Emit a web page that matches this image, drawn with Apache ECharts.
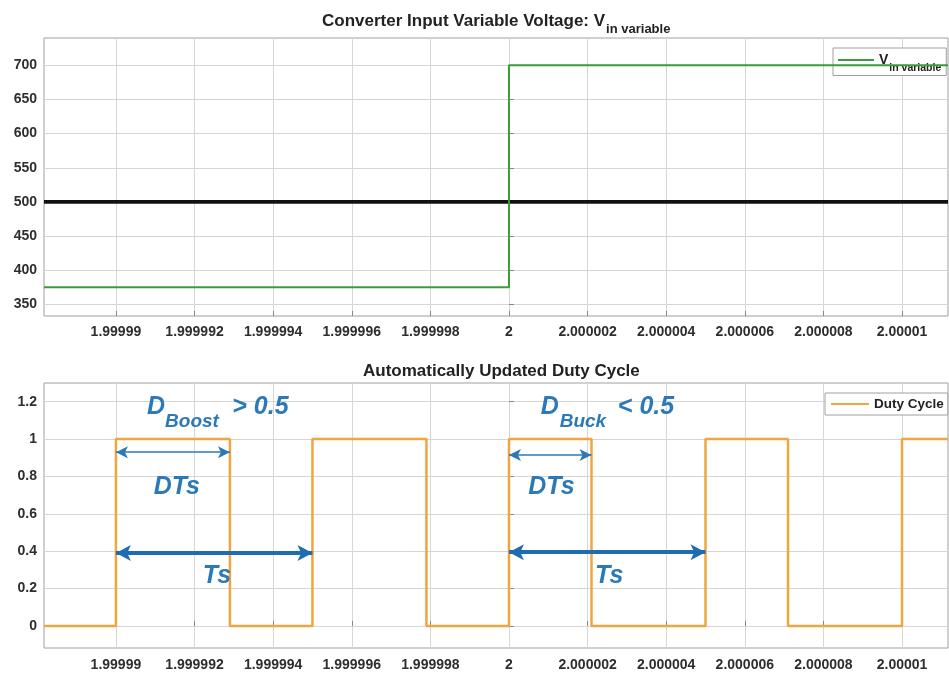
<!DOCTYPE html>
<html>
<head>
<meta charset="utf-8">
<script src="https://cdn.jsdelivr.net/npm/echarts@6/dist/echarts.min.js"></script>
<style>
html,body{margin:0;padding:0;background:#fff;}
#chart{width:949px;height:673px;}
</style>
</head>
<body>
<div id="chart"></div>
<script>
// ---- data (time in seconds) ----
const xStartTime = 1.99998817;
const xEndTime = 2.00001117;
const xTickLabels = ['1.99999','1.999992','1.999994','1.999996','1.999998','2','2.000002','2.000004','2.000006','2.000008','2.00001'];
const vTicks = [350, 400, 450, 500, 550, 600, 650, 700];
const dutyTicks = [0, 0.2, 0.4, 0.6, 0.8, 1, 1.2];

// V_in variable: step (value holds until next time)
const vinTimes = [1.99998817, 2, 2.00001117];
const vinValues = [375, 700, 700];
// reference 500 V line
const refTimes = [1.99998817, 2.00001117];
const refValues = [500, 500];
// Duty cycle switching instants and level after each instant
const dutyTimes = [1.99998817, 1.99999, 1.9999929, 1.999995, 1.9999979, 2, 2.0000021, 2.000005, 2.0000071, 2.00001, 2.00001117];
const dutyValues = [0, 1, 0, 1, 0, 1, 0, 1, 0, 1, 1];

// annotation arrows: [startTime, endTime, level]
const dtsArrows = [[1.99999, 1.9999929, 0.93], [2, 2.0000021, 0.915]];
const tsArrows = [[1.99999, 1.999995, 0.39], [2, 2.000005, 0.395]];
// annotation texts: [time, level, text, size, align]
const annTexts = [
  [1.99999079, 1.172, 'D', 25, 'left'],
  [1.99999125, 1.095, 'Boost', 19, 'left'],
  [1.99999296, 1.172, '> 0.5', 25, 'left'],
  [1.99999155, 0.744, 'DTs', 25, 'center'],
  [1.99999257, 0.268, 'Ts', 25, 'center'],
  [2.00000081, 1.172, 'D', 25, 'left'],
  [2.00000129, 1.095, 'Buck', 19, 'left'],
  [2.00000277, 1.172, '< 0.5', 25, 'left'],
  [2.00000108, 0.744, 'DTs', 25, 'center'],
  [2.00000255, 0.268, 'Ts', 25, 'center']
];

// ---- helpers ----
const toUs = t => Math.round((t - 2) * 1e8) / 100; // microseconds offset from 2 s
const xTickVals = xTickLabels.map(s => toUs(parseFloat(s)));
const xLabel = v => {
  let best = 0, bd = Infinity;
  xTickVals.forEach((tv, i) => { const d = Math.abs(tv - v); if (d < bd) { bd = d; best = i; } });
  return xTickLabels[best];
};
const pairs = (ts, vs) => ts.map((t, i) => [toUs(t), vs[i]]);

const FONT = '"Liberation Sans", Arial, sans-serif';
const BLUE = '#2b79b8';
const labelStyle = {fontFamily: FONT, fontWeight: 'bold', fontSize: 14, color: '#2e2e2e'};

function xAxisFor(gi, margin) {
  return {
    type: 'value', gridIndex: gi, min: toUs(xStartTime), max: toUs(xEndTime),
    axisLine: {show: false},
    axisTick: {show: true, inside: true, length: 5, customValues: xTickVals, lineStyle: {color: '#888'}},
    axisLabel: Object.assign({customValues: xTickVals, formatter: xLabel, margin: margin}, labelStyle),
    splitLine: {show: true, lineStyle: {color: '#d6d6d6', width: 1}}
  };
}
function yAxisFor(gi, min, max, ticks) {
  return {
    type: 'value', gridIndex: gi, min: min, max: max,
    axisLine: {show: false},
    axisTick: {show: true, inside: true, length: 5, customValues: ticks, lineStyle: {color: '#888'}},
    axisLabel: Object.assign({customValues: ticks, margin: 7, formatter: v => String(+v.toFixed(2))}, labelStyle),
    splitLine: {show: true, lineStyle: {color: '#d6d6d6', width: 1}}
  };
}

const chart = echarts.init(document.getElementById('chart'), null, {renderer: 'canvas'});
chart.setOption({
  animation: false,
  backgroundColor: '#fff',
  title: [
    {
      text: '{b|Converter Input Variable Voltage: V}{s|in variable}',
      left: 322, top: 7, padding: 0,
      textStyle: {rich: {
        b: {fontFamily: FONT, fontSize: 17, fontWeight: 'bold', color: '#222'},
        s: {fontFamily: FONT, fontSize: 13, fontWeight: 'bold', color: '#222', padding: [16, 0, 0, 1]}
      }}
    },
    {
      text: 'Automatically Updated Duty Cycle',
      left: 363, top: 363, padding: 0,
      textStyle: {fontFamily: FONT, fontSize: 17, fontWeight: 'bold', color: '#222'}
    }
  ],
  legend: [
    {
      data: ['Vin'], left: 833, top: 48, padding: [5, 5, 2, 4],
      itemWidth: 36, itemHeight: 14,
      itemStyle: {opacity: 0},
      backgroundColor: '#fff', borderColor: '#a0a0a0', borderWidth: 1, borderRadius: 0,
      formatter: () => '{v|V}{s|in variable}',
      textStyle: {rich: {
        v: {fontFamily: FONT, fontSize: 14, fontWeight: 'bold', color: '#222'},
        s: {fontFamily: FONT, fontSize: 10.5, fontWeight: 'bold', color: '#222', padding: [16, 0, 0, 1]}
      }}
    },
    {
      data: ['Duty Cycle'], left: 825, top: 393, padding: [4, 4, 4, 5],
      itemWidth: 38, itemHeight: 14,
      itemStyle: {opacity: 0},
      backgroundColor: '#fff', borderColor: '#a0a0a0', borderWidth: 1, borderRadius: 0,
      textStyle: {fontFamily: FONT, fontSize: 13.5, fontWeight: 'bold', color: '#222'}
    }
  ],
  grid: [
    {left: 44, top: 38, right: 1, height: 278, show: true, borderColor: '#a0a0a0', borderWidth: 1, backgroundColor: '#fff', containLabel: false},
    {left: 44, top: 383, right: 1, height: 265, show: true, borderColor: '#a0a0a0', borderWidth: 1, backgroundColor: '#fff', containLabel: false}
  ],
  xAxis: [xAxisFor(0, 9), xAxisFor(1, 10)],
  yAxis: [yAxisFor(0, 333, 740, vTicks), yAxisFor(1, -0.118, 1.3, dutyTicks)],
  series: [
    {
      name: 'Reference', type: 'line', xAxisIndex: 0, yAxisIndex: 0,
      data: pairs(refTimes, refValues), symbol: 'none',
      lineStyle: {color: '#111', width: 3.8}, z: 3
    },
    {
      name: 'Vin', type: 'line', xAxisIndex: 0, yAxisIndex: 0, step: 'end',
      data: pairs(vinTimes, vinValues), symbol: 'none',
      lineStyle: {color: '#3c9c3c', width: 2}, itemStyle: {color: '#3c9c3c'}, z: 4
    },
    {
      name: 'Duty Cycle', type: 'line', xAxisIndex: 1, yAxisIndex: 1, step: 'end',
      data: pairs(dutyTimes, dutyValues), symbol: 'none',
      lineStyle: {color: '#f0a540', width: 2.5}, itemStyle: {color: '#f0a540'}, z: 3,
      markLine: {
        silent: true, animation: false,
        label: {show: false},
        data: dtsArrows.map(a => [
          {coord: [toUs(a[0]), a[2]], symbol: 'arrow', symbolSize: [9, 12], lineStyle: {color: BLUE, width: 1.6, type: 'solid'}},
          {coord: [toUs(a[1]), a[2]], symbol: 'arrow', symbolSize: [9, 12]}
        ]).concat(tsArrows.map(a => [
          {coord: [toUs(a[0]), a[2]], symbol: 'arrow', symbolSize: [12, 15], lineStyle: {color: '#1e6db0', width: 4, type: 'solid'}},
          {coord: [toUs(a[1]), a[2]], symbol: 'arrow', symbolSize: [12, 15]}
        ]))
      },
      markPoint: {
        silent: true, animation: false,
        data: annTexts.map(a => ({
          coord: [toUs(a[0]), a[1]], symbol: 'circle', symbolSize: 1,
          itemStyle: {color: 'rgba(0,0,0,0)'},
          label: {show: true, position: 'inside', formatter: a[2], align: a[4], verticalAlign: 'middle',
            fontFamily: FONT, fontSize: a[3], fontWeight: 'bold', fontStyle: 'italic', color: BLUE}
        }))
      }
    }
  ]
});
</script>
</body>
</html>
